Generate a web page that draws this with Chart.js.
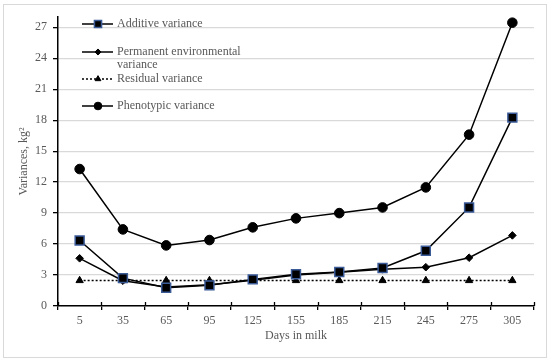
<!DOCTYPE html>
<html><head><meta charset="utf-8">
<script src="https://cdn.jsdelivr.net/npm/chart.js@4/dist/chart.umd.min.js"></script>
<style>html,body{margin:0;padding:0;background:#fff}#wrap{width:550px;height:361px;position:relative}</style>
</head><body><div id="wrap"><canvas id="c" width="550" height="361"></canvas></div>
<script>
const categories = ['5','35','65','95','125','155','185','215','245','275','305'];
const additive = [6.35, 2.7, 1.77, 2.0, 2.58, 3.07, 3.29, 3.68, 5.35, 9.55, 18.25];
const permanentEnv = [4.62, 2.45, 1.85, 2.05, 2.5, 3.0, 3.28, 3.55, 3.76, 4.68, 6.84];
const residual = [2.47, 2.47, 2.47, 2.47, 2.47, 2.47, 2.47, 2.47, 2.47, 2.47, 2.47];
const phenotypic = [13.27, 7.42, 5.87, 6.39, 7.62, 8.49, 9.0, 9.55, 11.49, 16.6, 27.45];
const seriesLabels = [['Additive variance'], ['Permanent environmental', 'variance'], ['Residual variance'], ['Phenotypic variance']];
const yTicks = [0,3,6,9,12,15,18,21,24,27];

const FONT = "'Liberation Serif', 'Times New Roman', serif";
const GRAY = '#595959';

const legendPlugin = {
  id: 'customLegend',
  beforeDraw(chart) {
    const ctx = chart.ctx;
    ctx.save();
    ctx.strokeStyle = '#d9d9d9';
    ctx.lineWidth = 1;
    ctx.strokeRect(3.5, 4.5, 543, 353);
    ctx.restore();
  },
  afterDraw(chart) {
    const ctx = chart.ctx;
    const xs = chart.scales.x;
    ctx.save();
    ctx.strokeStyle = '#000';
    ctx.lineWidth = 1.3;
    const n = categories.length;
    const y0 = xs.top;
    for (let i = 0; i <= n; i++) {
      const px = Math.round(xs.left + (xs.right - xs.left) * i / n) + 0.5;
      ctx.beginPath(); ctx.moveTo(px, y0 - 4); ctx.lineTo(px, y0); ctx.stroke();
    }
    ctx.restore();
    const rowsY = [24, 52, 79, 106];
    const x1 = 82, x2 = 113, xm = 98, xt = 117;
    chart.data.datasets.forEach((ds, i) => {
      const y = rowsY[i];
      ctx.save();
      ctx.strokeStyle = ds.borderColor;
      ctx.lineWidth = ds.borderWidth;
      ctx.setLineDash(ds.borderDash || []);
      ctx.beginPath(); ctx.moveTo(x1, y); ctx.lineTo(x2, y); ctx.stroke();
      ctx.setLineDash([]);
      ctx.fillStyle = ds.pointBackgroundColor;
      ctx.strokeStyle = ds.pointBorderColor;
      ctx.lineWidth = ds.pointBorderWidth;
      Chart.helpers.drawPoint(ctx, {pointStyle: ds.pointStyle, radius: ds.pointRadius * 0.8, borderWidth: ds.pointBorderWidth}, xm, y);
      ctx.fillStyle = GRAY;
      ctx.font = '12px ' + FONT;
      ctx.textBaseline = 'middle';
      ctx.textAlign = 'left';
      ds.legendLines.forEach((t, j) => ctx.fillText(t, xt, y + j * 13));
      ctx.restore();
    });
  }
};

const common = { borderColor: '#000', borderWidth: 1.5, tension: 0, pointBorderWidth: 1 };

new Chart(document.getElementById('c'), {
  type: 'line',
  data: {
    labels: categories,
    datasets: [
      Object.assign({}, common, { label: seriesLabels[0].join(' '), legendLines: seriesLabels[0], data: additive,
        pointStyle: 'rect', pointRadius: 6.3, pointBackgroundColor: '#000', pointBorderColor: '#3a5a98', pointBorderWidth: 1.5 }),
      Object.assign({}, common, { label: seriesLabels[1].join(' '), legendLines: seriesLabels[1], data: permanentEnv,
        pointStyle: 'rectRot', pointRadius: 3.8, pointBackgroundColor: '#000', pointBorderColor: '#000' }),
      Object.assign({}, common, { label: seriesLabels[2].join(' '), legendLines: seriesLabels[2], data: residual, borderDash: [2, 2],
        pointStyle: 'triangle', pointRadius: 4.2, pointBackgroundColor: '#000', pointBorderColor: '#000' }),
      Object.assign({}, common, { label: seriesLabels[3].join(' '), legendLines: seriesLabels[3], data: phenotypic,
        pointStyle: 'circle', pointRadius: 4.8, pointBackgroundColor: '#000', pointBorderColor: '#000' })
    ]
  },
  options: {
    responsive: false,
    animation: false,
    devicePixelRatio: 1,
    layout: { padding: { top: 17, right: 16, left: 0, bottom: 0 } },
    plugins: { legend: { display: false }, tooltip: { enabled: false } },
    elements: { point: { hitRadius: 0 } },
    scales: {
      x: {
        offset: true,
        grid: { display: true, drawOnChartArea: false, offset: true, tickLength: 4, color: '#000', lineWidth: 1.3 },
        border: { color: '#000', width: 1.5 },
        ticks: { color: GRAY, font: { family: FONT, size: 12 }, padding: 4, maxRotation: 0 },
        title: { display: true, text: 'Days in milk', color: GRAY, font: { family: FONT, size: 12 }, padding: { top: 0, bottom: 18 } },
        afterFit(s) { s.height = 55; }
      },
      y: {
        min: 0, max: 28,
        afterBuildTicks(s) { s.ticks = yTicks.map(v => ({ value: v })); },
        grid: { color: '#d9d9d9', lineWidth: 1.3, tickLength: 5, tickColor: '#000' },
        border: { color: '#000', width: 1.5 },
        ticks: { color: GRAY, font: { family: FONT, size: 12 }, padding: 6 },
        title: { display: true, text: 'Variances, kg²', color: GRAY, font: { family: FONT, size: 12 }, padding: { top: 17, bottom: 0 } },
        afterFit(s) { s.width = 58; }
      }
    }
  },
  plugins: [legendPlugin]
});
</script>
</body></html>
